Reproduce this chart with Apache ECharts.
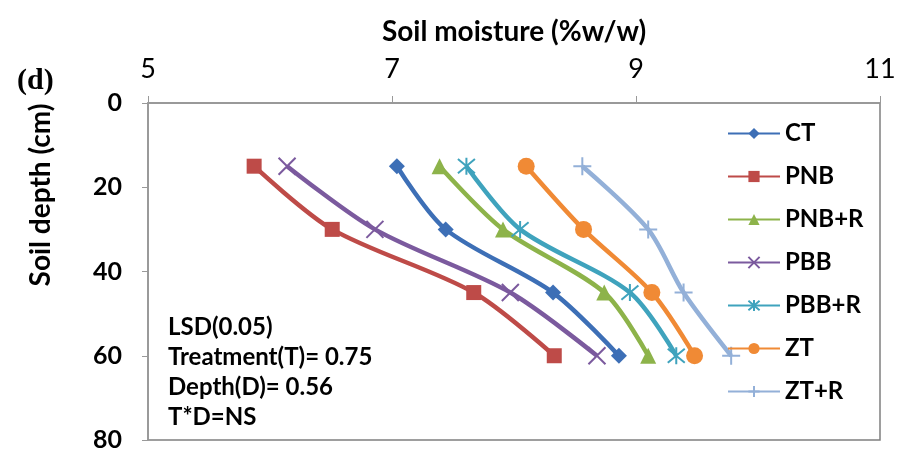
<!DOCTYPE html>
<html lang="en">
<head>
    <meta charset="UTF-8">
    <title>Soil moisture</title>
    <script src="https://cdn.jsdelivr.net/npm/echarts@6/dist/echarts.min.js"></script>
    <style>
        *{
            margin: 0;
            padding: 0;
        }
        body{
            background-color: #fff;
            overflow: hidden;
        }
    </style>
</head>
<body>
<div id="main" style="width:904px;height:455px;"></div>
<script>
    // soil depth (cm) and soil moisture (%w/w) per treatment
    var depths = [15, 30, 45, 60];
    var names = ['CT', 'PNB', 'PNB+R', 'PBB', 'PBB+R', 'ZT', 'ZT+R'];
    var CT    = [7.04, 7.44, 8.32, 8.86];
    var PNB   = [5.87, 6.51, 7.67, 8.33];
    var PNB_R = [7.39, 7.91, 8.74, 9.10];
    var PBB   = [6.14, 6.86, 7.97, 8.68];
    var PBB_R = [7.61, 8.05, 8.95, 9.33];
    var ZT    = [8.10, 8.57, 9.13, 9.48];
    var ZT_R  = [8.56, 9.10, 9.39, 9.78];
    var xTicks = [5, 7, 9, 11];
    var yTicks = [0, 20, 40, 60, 80];

    var values = [CT, PNB, PNB_R, PBB, PBB_R, ZT, ZT_R];
    var colors = ['#3d6fb6', '#be4b48', '#8db34a', '#7b5a9e', '#3fa3bd', '#f08a35', '#93b0d8'];
    var symbols = [
        'diamond', 'rect', 'triangle',
        'path://M0,0L10,10M10,0L0,10',
        'path://M0,0L10,10M10,0L0,10M5,-1L5,11',
        'circle',
        'path://M0,5L10,5M5,0L5,10'
    ];
    var sizes = [16, 15, 16, 17, 17, 17, 18];
    var stroked = [false, false, false, true, true, false, true];

    var font = 'Lato';

    var series = names.map(function (n, i) {
        return {
            name: n,
            type: 'line',
            smooth: 0.3,
            symbol: symbols[i],
            symbolSize: sizes[i],
            data: values[i].map(function (v, j) { return [v, depths[j]]; }),
            lineStyle: {color: colors[i], width: 4.5},
            itemStyle: {
                color: stroked[i] ? 'none' : colors[i],
                borderColor: colors[i],
                borderWidth: stroked[i] ? 2 : 0
            }
        };
    });

    var myChart = echarts.init(document.getElementById('main'));
    var option = {
        animation: false,
        color: colors,
        grid: {
            left: 148, right: 24, top: 103, bottom: 15,
            show: true,
            borderColor: '#7f7f7f',
            borderWidth: 1.5
        },
        legend: {
            orient: 'vertical',
            left: 722,
            top: 116,
            itemWidth: 52,
            itemHeight: 14,
            itemGap: 18,
            textStyle: {fontFamily: font, fontWeight: 'bold', fontSize: 24, lineHeight: 25, color: '#000'},
            data: names
        },
        xAxis: {
            type: 'value',
            position: 'top',
            min: xTicks[0],
            max: xTicks[xTicks.length - 1],
            interval: 2,
            name: 'Soil moisture (%w/w)',
            nameLocation: 'middle',
            nameGap: 57,
            nameTextStyle: {fontFamily: font, fontWeight: 'bold', fontSize: 28, color: '#000'},
            axisLine: {lineStyle: {color: '#999', width: 1.5}},
            axisTick: {show: true, length: 7, lineStyle: {color: '#999'}},
            splitLine: {show: false},
            axisLabel: {fontFamily: font, fontSize: 27, color: '#000', margin: 20}
        },
        yAxis: {
            type: 'value',
            inverse: true,
            min: yTicks[0],
            max: yTicks[yTicks.length - 1],
            interval: 20,
            axisLine: {show: true, lineStyle: {color: '#999', width: 1.5}},
            axisTick: {show: true, length: 6, lineStyle: {color: '#999'}},
            splitLine: {show: false},
            axisLabel: {fontFamily: font, fontWeight: 'bold', fontSize: 25, color: '#000', margin: 26}
        },
        graphic: [
            {
                type: 'text', left: 17, top: 66,
                style: {text: '(d)', font: 'bold 30px "Liberation Serif"', fill: '#000'}
            },
            {
                type: 'text', x: 41, y: 195, rotation: Math.PI / 2,
                style: {
                    text: 'Soil depth (cm)', font: 'bold 28px ' + font, fill: '#000',
                    align: 'center', verticalAlign: 'middle'
                }
            },
            {
                type: 'text', left: 168, top: 312,
                style: {
                    text: 'LSD(0.05)\nTreatment(T)= 0.75\nDepth(D)= 0.56\nT*D=NS',
                    font: 'bold 24px ' + font, fill: '#000', lineHeight: 30
                }
            }
        ],
        series: series
    };
    myChart.setOption(option);
</script>
</body>
</html>
